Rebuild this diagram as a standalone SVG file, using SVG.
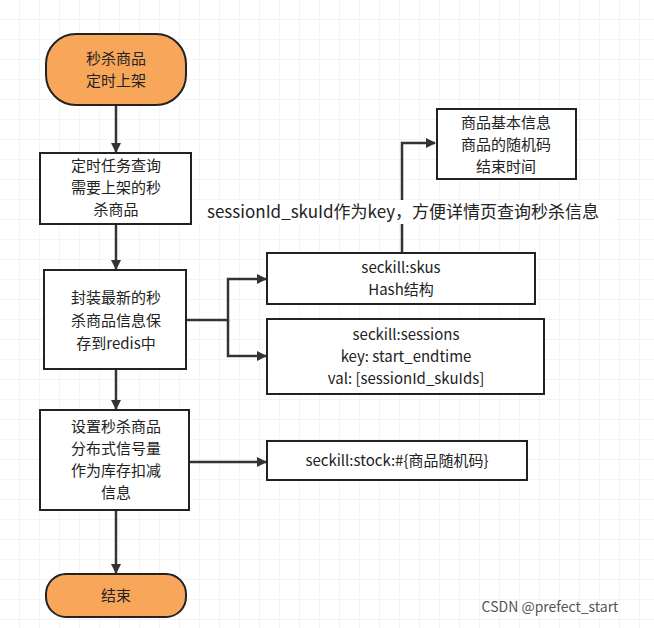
<svg xmlns="http://www.w3.org/2000/svg" width="654" height="628" viewBox="0 0 654 628">
<defs>
<pattern id="g" width="20" height="20" patternUnits="userSpaceOnUse"><path d="M20 0V20M0 20H20" fill="none" stroke="#e8e8e8" stroke-width="1"/></pattern>
<marker id="a" markerWidth="10" markerHeight="10" refX="9" refY="5" orient="auto" markerUnits="userSpaceOnUse"><path d="M0 0L10 5L0 10z" fill="#333"/></marker>
<style>
.b{fill:#fff;stroke:#222;stroke-width:2}
.o{fill:#f8a65a;stroke:#222;stroke-width:2}
text{font-family:"Noto Sans CJK SC","Noto Sans",sans-serif;font-size:15px;fill:#222;text-anchor:middle}
.c{fill:none;stroke:#333;stroke-width:2.5;marker-end:url(#a)}
</style>
</defs>
<rect width="654" height="628" fill="#fff"/>
<rect width="654" height="628" fill="url(#g)"/>
<g id="connectors">
<path class="c" d="M116 106V152"/>
<path class="c" d="M116 224V269"/>
<path class="c" d="M116 370V409"/>
<path class="c" d="M116 510V573"/>
<path class="c" d="M186 320H228V279H266"/>
<path class="c" d="M228 320V356H266"/>
<path class="c" d="M402 253V143H435"/>
<path class="c" d="M189 462H266"/>
<rect x="194" y="200" width="420" height="24" fill="#fff"/>
<text x="403" y="218" style="font-size:17px">sessionId_skuId作为key，方便详情页查询秒杀信息</text>
</g>
<g id="start"><rect class="o" x="46" y="34" width="140" height="71" rx="30"/><text x="116" y="64">秒杀商品</text><text x="116" y="86">定时上架</text></g>
<g id="query"><rect class="b" x="40" y="153" width="151" height="71"/><text x="116" y="171">定时任务查询</text><text x="116" y="193">需要上架的秒</text><text x="116" y="215">杀商品</text></g>
<g id="save"><rect class="b" x="44" y="270" width="142" height="99"/><text x="116" y="303">封装最新的秒</text><text x="116" y="326">杀商品信息保</text><text x="116" y="349">存到redis中</text></g>
<g id="sem"><rect class="b" x="40" y="410" width="149" height="100"/><text x="116" y="432">设置秒杀商品</text><text x="116" y="454">分布式信号量</text><text x="116" y="476">作为库存扣减</text><text x="116" y="498">信息</text></g>
<g id="end"><rect class="o" x="46" y="574" width="140" height="43" rx="20"/><text x="116" y="601">结束</text></g>
<g id="info"><rect class="b" x="437" y="109" width="139" height="70"/><text x="506" y="128">商品基本信息</text><text x="506" y="150">商品的随机码</text><text x="506" y="172">结束时间</text></g>
<g id="skus"><rect class="b" x="267" y="253" width="268" height="51"/><text x="401" y="273">seckill:skus</text><text x="401" y="295">Hash结构</text></g>
<g id="sessions"><rect class="b" x="267" y="319" width="277" height="75"/><text x="406" y="340">seckill:sessions</text><text x="406" y="362">key: start_endtime</text><text x="406" y="384">val:  [sessionId_skuIds]</text></g>
<g id="stock"><rect class="b" x="267" y="441" width="260" height="39"/><text x="397" y="466">seckill:stock:#{商品随机码}</text></g>
<text x="550" y="612" style="font-size:14px;fill:#555">CSDN @prefect_start</text>
</svg>
